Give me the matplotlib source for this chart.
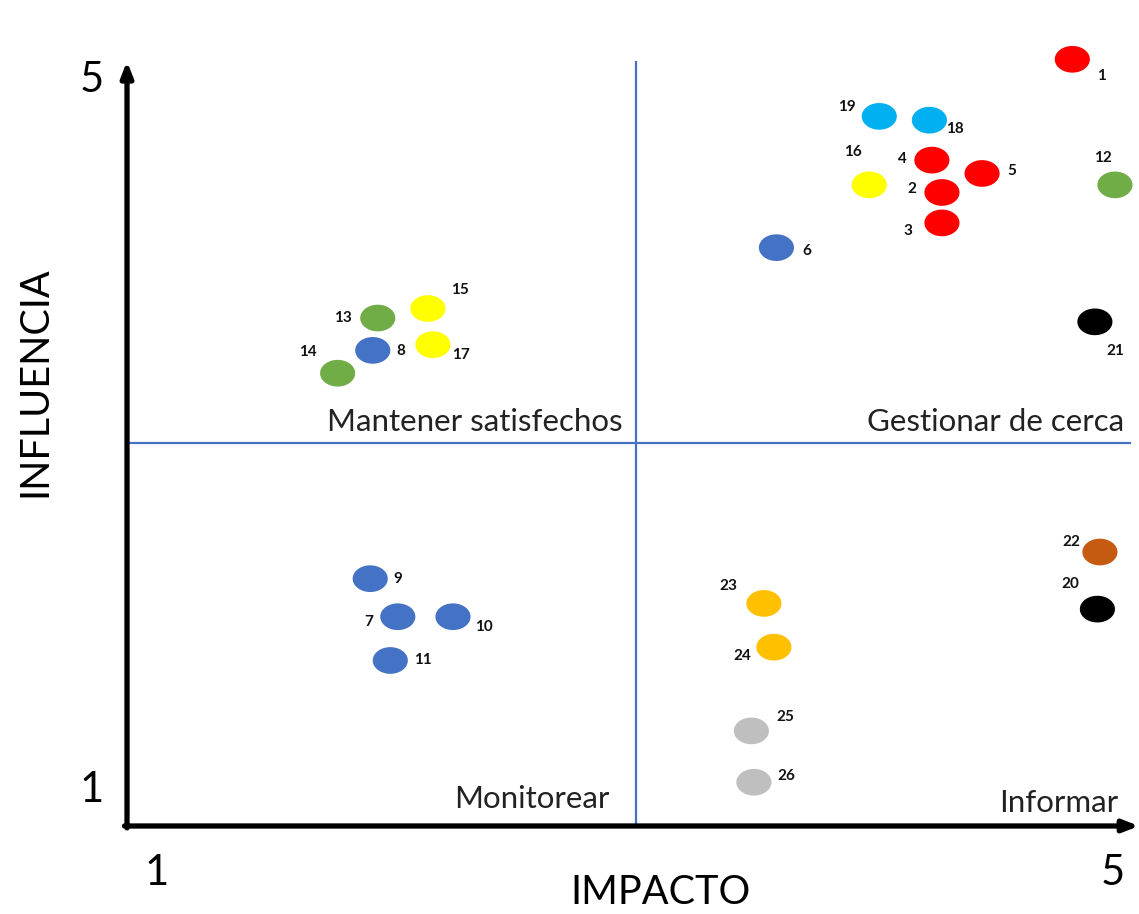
import matplotlib.pyplot as plt
from matplotlib.path import Path
import numpy as np

plt.rcParams.update({'font.family': ['Lato', 'DejaVu Sans']})

# stakeholder id, impacto, influencia, colour
ids = ['1', '19', '18', '16', '4', '5', '2', '3', '12', '6', '21',
       '13', '15', '8', '17', '14',
       '9', '7', '10', '11',
       '23', '24', '25', '26', '22', '20']
impacto = [4.77, 4.00, 4.20, 3.96, 4.21, 4.41, 4.25, 4.25, 4.94, 3.59, 4.86,
           2.00, 2.20, 1.98, 2.22, 1.84,
           1.97, 2.08, 2.30, 2.05,
           3.54, 3.58, 3.49, 3.50, 4.88, 4.87]
influencia = [5.03, 4.73, 4.71, 4.37, 4.50, 4.43, 4.33, 4.17, 4.37, 4.04, 3.65,
              3.67, 3.72, 3.50, 3.53, 3.38,
              2.30, 2.10, 2.10, 1.87,
              2.17, 1.94, 1.50, 1.23, 2.44, 2.14]
colores = ['#FF0000', '#00B0F0', '#00B0F0', '#FFFF00', '#FF0000', '#FF0000', '#FF0000', '#FF0000',
           '#70AD47', '#4472C4', '#000000',
           '#70AD47', '#FFFF00', '#4472C4', '#FFFF00', '#70AD47',
           '#4472C4', '#4472C4', '#4472C4', '#4472C4',
           '#FFC000', '#FFC000', '#BFBFBF', '#BFBFBF', '#C55A11', '#000000']
# where each number sits relative to its dot (pixels)
label_off = [(29, -17), (-32, 9), (26, -9), (-16, 33), (-30, 1), (30, 2), (-30, 3), (-34, -8),
             (-12, 27), (30, -3), (20, -29),
             (-35, 0), (32, 19), (28, -1), (28, -10), (-30, 21),
             (28, 0), (-29, -5), (31, -10), (33, 0),
             (-36, 17), (-32, -9), (34, 14), (32, 6), (-29, 10), (-27, 25)]

cuadrantes = ['Mantener satisfechos', 'Gestionar de cerca', 'Monitorear', 'Informar']
cuad_pos = [(2.978, 3.124), (4.976, 3.124), (2.926, 1.142), (4.952, 1.121)]

# flattened ellipse used as marker
t = np.linspace(0, 2 * np.pi, 60)
oval = Path(np.column_stack([np.cos(t), 0.76 * np.sin(t)]), closed=True)

fig = plt.figure(figsize=(11.39, 9.14), dpi=100)
ax = fig.add_axes([127 / 1139, 88 / 914, 1003 / 1139, 761 / 914])
ax.set_xlim(1, 5)
ax.set_ylim(1, 5)
ax.axis('off')

# quadrant dividers
ax.plot([3.03, 3.03], [1, 5.016], color='#4472C4', lw=1.6, clip_on=False, zorder=1)
ax.plot([1, 5], [3.015, 3.015], color='#4472C4', lw=1.6, clip_on=False, zorder=1)

# axes with arrow heads
ax.annotate('', xy=(1, 5.02), xytext=(1, 0.99), xycoords='data',
            arrowprops=dict(arrowstyle='-|>,head_length=0.9,head_width=0.35', lw=3.8, color='black',
                            shrinkA=0, shrinkB=0), annotation_clip=False)
ax.annotate('', xy=(5.036, 1), xytext=(0.99, 1), xycoords='data',
            arrowprops=dict(arrowstyle='-|>,head_length=0.9,head_width=0.35', lw=3.8, color='black',
                            shrinkA=0, shrinkB=0), annotation_clip=False)

ax.scatter(impacto, influencia, s=640, marker=oval, c=colores, linewidths=0, zorder=3, clip_on=False)

for name, x, y, off in zip(ids, impacto, influencia, label_off):
    ax.annotate(name, (x, y), xytext=off, textcoords='offset pixels', ha='center', va='center',
                fontsize=11, fontweight='bold', color='#111111', annotation_clip=False)

for txt, (x, y) in zip(cuadrantes, cuad_pos):
    ax.text(x, y, txt, ha='right', va='center', fontsize=22.5, color='#222222', clip_on=False)

# end values on each axis
ax.text(0.860, 4.921, '5', ha='center', va='center', fontsize=30, clip_on=False)
ax.text(0.860, 1.189, '1', ha='center', va='center', fontsize=30, clip_on=False)
ax.text(1.120, 0.753, '1', ha='center', va='center', fontsize=30, clip_on=False)
ax.text(4.932, 0.753, '5', ha='center', va='center', fontsize=30, clip_on=False)

ax.text(3.126, 0.648, 'IMPACTO', ha='center', va='center', fontsize=28.5, clip_on=False)
ax.text(0.633, 3.334, 'INFLUENCIA', ha='center', va='center', rotation=90, fontsize=28.5, clip_on=False)

fig.savefig('out.png', dpi=100)
